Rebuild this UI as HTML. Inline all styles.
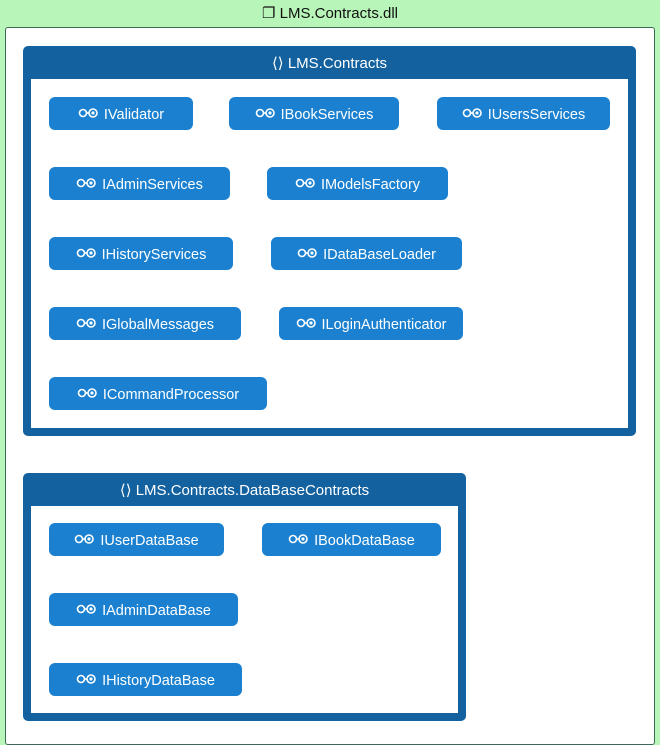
<!DOCTYPE html>
<html><head><meta charset="utf-8"><style>
body{margin:0;width:660px;height:741px;background:#b8f5b8;position:relative;overflow:hidden;font-family:"Segoe UI","Liberation Sans",sans-serif;}
.t{position:absolute;left:0;top:4px;width:660px;text-align:center;font-size:15px;color:#111;}
.outer{position:absolute;left:5px;top:27px;width:648px;height:716px;background:#fff;border:1px solid #3b6b55;border-radius:3px;}
.g{position:absolute;background:#13619f;border-radius:5px;}
.g .h{position:absolute;left:0;top:8px;width:100%;text-align:center;color:#fff;font-size:15px;}
.g .in{position:absolute;left:8px;top:33px;right:8px;bottom:8px;background:#fff;}
.n{position:absolute;height:33px;box-sizing:border-box;padding-top:2px;background:#1a80cf;border-radius:6px;color:#fff;font-size:14.5px;line-height:33px;text-align:center;}
.ic{display:inline-block;width:20px;height:10px;vertical-align:middle;margin-right:6px;position:relative;top:-2px}
</style></head><body>
<div class="t">❐ LMS.Contracts.dll</div>
<div class="outer"></div>
<div class="g" style="left:23px;top:46px;width:613px;height:390px"><div class="h">⟨⟩ LMS.Contracts</div><div class="in"></div></div>
<div class="g" style="left:23px;top:473px;width:443px;height:248px"><div class="h">⟨⟩ LMS.Contracts.DataBaseContracts</div><div class="in"></div></div>
<svg width="0" height="0" style="position:absolute"><defs><g id="i"><circle cx="5" cy="5" r="3.5" fill="none" stroke="#fff" stroke-width="1.6"/><line x1="8.5" y1="5" x2="11" y2="5" stroke="#fff" stroke-width="1.6"/><circle cx="15" cy="5" r="4" fill="none" stroke="#fff" stroke-width="1.6"/><circle cx="15" cy="5" r="1.6" fill="#fff"/></g></defs></svg>
<div class="n" style="left:49px;top:97px;width:144px"><svg class="ic"><use href="#i"/></svg>IValidator</div>
<div class="n" style="left:229px;top:97px;width:170px"><svg class="ic"><use href="#i"/></svg>IBookServices</div>
<div class="n" style="left:437px;top:97px;width:173px"><svg class="ic"><use href="#i"/></svg>IUsersServices</div>
<div class="n" style="left:49px;top:167px;width:181px"><svg class="ic"><use href="#i"/></svg>IAdminServices</div>
<div class="n" style="left:267px;top:167px;width:181px"><svg class="ic"><use href="#i"/></svg>IModelsFactory</div>
<div class="n" style="left:49px;top:237px;width:184px"><svg class="ic"><use href="#i"/></svg>IHistoryServices</div>
<div class="n" style="left:271px;top:237px;width:191px"><svg class="ic"><use href="#i"/></svg>IDataBaseLoader</div>
<div class="n" style="left:49px;top:307px;width:192px"><svg class="ic"><use href="#i"/></svg>IGlobalMessages</div>
<div class="n" style="left:279px;top:307px;width:184px"><svg class="ic"><use href="#i"/></svg>ILoginAuthenticator</div>
<div class="n" style="left:49px;top:377px;width:218px"><svg class="ic"><use href="#i"/></svg>ICommandProcessor</div>
<div class="n" style="left:49px;top:523px;width:175px"><svg class="ic"><use href="#i"/></svg>IUserDataBase</div>
<div class="n" style="left:262px;top:523px;width:179px"><svg class="ic"><use href="#i"/></svg>IBookDataBase</div>
<div class="n" style="left:49px;top:593px;width:189px"><svg class="ic"><use href="#i"/></svg>IAdminDataBase</div>
<div class="n" style="left:49px;top:663px;width:193px"><svg class="ic"><use href="#i"/></svg>IHistoryDataBase</div>
</body></html>
